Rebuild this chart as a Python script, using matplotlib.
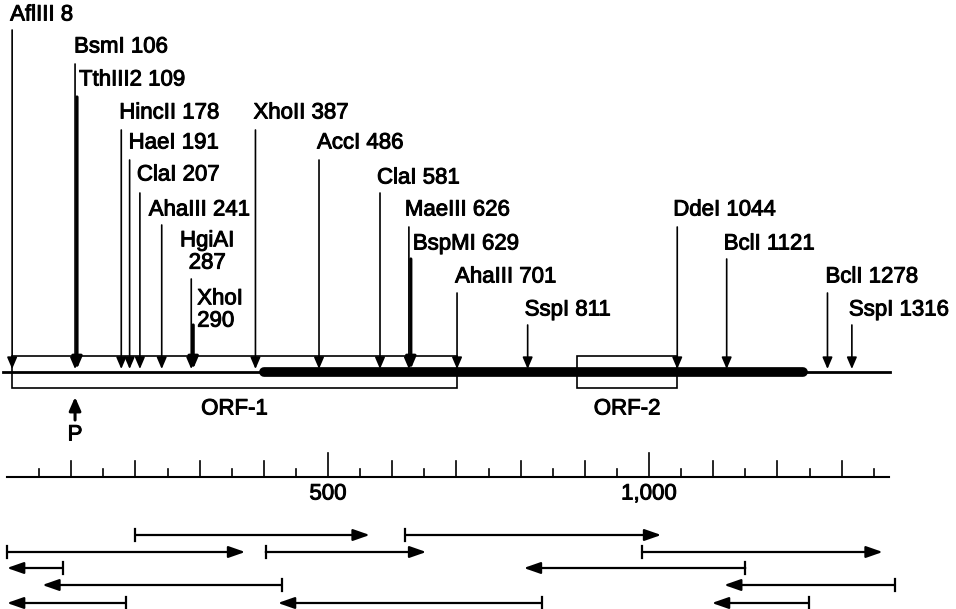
import matplotlib.pyplot as plt
import matplotlib.patheffects as pe
from matplotlib.patches import Rectangle

plt.rcParams['font.family'] = ['Liberation Sans', 'DejaVu Sans']

# --- Data ---
# restriction sites (bp)
site_names = ['AflIII', 'BsmI', 'TthIII2', 'HincII', 'HaeI', 'ClaI', 'AhaIII',
              'HgiAI', 'XhoI', 'XhoII', 'AccI', 'ClaI', 'MaeIII', 'BspMI',
              'AhaIII', 'SspI', 'DdeI', 'BclI', 'BclI', 'SspI']
site_pos = [8, 106, 109, 178, 191, 207, 241, 287, 290, 387, 486, 581, 626, 629,
            701, 811, 1044, 1121, 1278, 1316]

# map features (bp)
map_span = (-6, 1375)
thick_span = (400, 1240)
orf_names = ['ORF-1', 'ORF-2']
orf_start = [8, 888]
orf_end = [701, 1044]
promoter_pos = 106

# scale bar
ruler_len = 1374
tick_minor = list(range(50, 1400, 50))
tick_labels = {500: '500', 1000: '1,000'}

# sequencing reads (start -> end, bp) and their row
read_start = [200, 620, 0, 403, 989, 87, 1150, 428, 1383, 185, 833, 1249]
read_end = [565, 1019, 371, 653, 1364, 0, 805, 55, 1117, 0, 422, 1098]
read_row = [0, 0, 1, 1, 1, 2, 2, 3, 3, 4, 4, 4]

# --- Layout (pixels from top) ---
label_y = [15, 47, 80, 113, 143, 175, 210, 252, 310, 113, 143, 178, 210, 244,
           277, 310, 210, 244, 277, 310]
label_dx = [-2, -1, 2, -2, -1, -3, -13, 16, 4, -2, -2, -3, -4, 2,
            -2, -3, -4, -3, -2, -3]
line_top = [30, 64, 97, 130, 160, 193, 225, 279, 325, 130, 160, 193, 227, 259,
            293, 325, 227, 259, 293, 325]
row_y = [535, 552, 568, 585, 603]
map_y = 372
ruler_y = 477

PX = 0.642  # pixels per bp
X0 = 7      # pixel of bp 0
W, H = 956, 609

fig = plt.figure(figsize=(W / 100, H / 100), dpi=100)
ax = fig.add_axes([0, 0, 1, 1])
ax.set_xlim(-X0 / PX, (W - X0) / PX)
ax.set_ylim(H, 0)
ax.axis('off')

fs = 16
heavy = [pe.withStroke(linewidth=0.7, foreground='black')]


def label(x, y, s, **kw):
    t = ax.text(x, y, s, fontsize=fs, va='center', **kw)
    t.set_path_effects(heavy)
    return t


# map line
ax.plot(map_span, [map_y, map_y], color='black', lw=2.0, zorder=2)
ax.plot(thick_span, [map_y, map_y], color='black', lw=7, solid_capstyle='round', zorder=2)

# ORF boxes
for name, s, e in zip(orf_names, orf_start, orf_end):
    ax.add_patch(Rectangle((s, 356), e - s, 32, fill=False, lw=1.2,
                           edgecolor='black', zorder=1))
    label((s + e) / 2, 409, name, ha='center')

# restriction site arrows + labels
prev = None
for i, (name, p) in enumerate(zip(site_names, site_pos)):
    thick = prev is not None and p - prev <= 5
    prev = p
    lw = 2.3 if thick else 1.2
    ax.annotate('', xy=(p, 369), xytext=(p, line_top[i]),
                arrowprops=dict(arrowstyle='-|>,head_length=0.7,head_width=0.3',
                                mutation_scale=10, lw=lw, color='black',
                                shrinkA=0, shrinkB=0), zorder=3)
    x = p + label_dx[i] / PX
    if name == 'HgiAI':
        label(x, label_y[i], f'{name}\n{p}', ha='center',
              multialignment='center', linespacing=1.08)
    elif name == 'XhoI':
        label(x, label_y[i], f'{name}\n{p}', ha='left', linespacing=1.08)
    else:
        label(x, label_y[i], f'{name} {p}', ha='left')

# promoter
ax.annotate('', xy=(promoter_pos, 397), xytext=(promoter_pos, 420),
            arrowprops=dict(arrowstyle='-|>,head_length=0.8,head_width=0.35',
                            mutation_scale=10, lw=2.2, color='black',
                            shrinkA=0, shrinkB=0))
label(promoter_pos, 435, 'P', ha='center')

# scale bar
ax.plot([0, ruler_len], [ruler_y, ruler_y], color='black', lw=1.5)
for t in tick_minor:
    if t % 500 == 0:
        h = 24
    elif t % 100 == 0:
        h = 16
    else:
        h = 8
    ax.plot([t, t], [ruler_y, ruler_y - h], color='black', lw=1.2)
for t, lab in tick_labels.items():
    label(t, 494, lab, ha='center')

# sequencing strategy arrows
for s, e, r in zip(read_start, read_end, read_row):
    y = row_y[r]
    ax.annotate('', xy=(e, y), xytext=(s, y),
                arrowprops=dict(arrowstyle='-|>,head_length=1.0,head_width=0.35',
                                mutation_scale=10, lw=1.6, color='black',
                                shrinkA=0, shrinkB=0))
    ax.plot([s, s], [y - 6, y + 6], color='black', lw=1.6)

fig.savefig('out.png', dpi=100)
